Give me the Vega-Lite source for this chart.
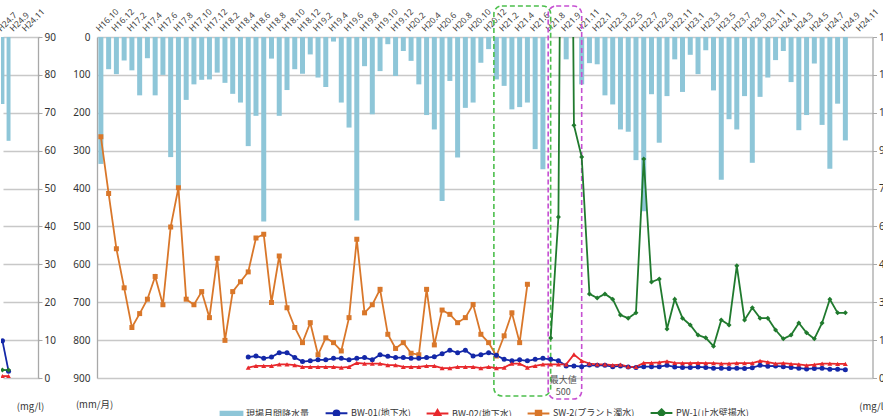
{
  "$schema": "https://vega.github.io/schema/vega-lite/v6.json",
  "padding": {"left": -5, "top": 5, "right": 0, "bottom": 0},
  "background": "white",
  "config": {
    "view": {"stroke": null},
    "font": "Noto Sans",
    "axis": {"labelFont": "Noto Sans", "titleFont": "Noto Sans CJK JP", "titleFontWeight": "normal", "labelColor": "#333", "titleColor": "#333"}
  },
  "bounds": "flush",
  "spacing": 59,
  "datasets": {
    "main": [
      {"m": "H16.10", "rain": 335, "sw2": 95.5},
      {"m": "H16.11", "rain": 85, "sw2": 73.0},
      {"m": "H16.12", "rain": 98, "sw2": 51.2},
      {"m": "H17.1", "rain": 62, "sw2": 35.7},
      {"m": "H17.2", "rain": 88, "sw2": 20.0},
      {"m": "H17.3", "rain": 154, "sw2": 25.5},
      {"m": "H17.4", "rain": 56, "sw2": 31.2},
      {"m": "H17.5", "rain": 154, "sw2": 40.2},
      {"m": "H17.6", "rain": 100, "sw2": 29.0},
      {"m": "H17.7", "rain": 317, "sw2": 59.8},
      {"m": "H17.8", "rain": 398, "sw2": 75.3},
      {"m": "H17.9", "rain": 166, "sw2": 31.2},
      {"m": "H17.10", "rain": 125, "sw2": 29.0},
      {"m": "H17.11", "rain": 113, "sw2": 34.2},
      {"m": "H17.12", "rain": 112, "sw2": 23.9},
      {"m": "H18.1", "rain": 94, "sw2": 47.4},
      {"m": "H18.2", "rain": 121, "sw2": 14.9},
      {"m": "H18.3", "rain": 150, "sw2": 34.2},
      {"m": "H18.4", "rain": 173, "sw2": 38.1},
      {"m": "H18.5", "rain": 288, "sw2": 42.0, "bw1": 8.3, "bw2": 4.1},
      {"m": "H18.6", "rain": 208, "sw2": 55.4, "bw1": 8.7, "bw2": 4.8},
      {"m": "H18.7", "rain": 487, "sw2": 56.9, "bw1": 7.8, "bw2": 4.8},
      {"m": "H18.8", "rain": 57, "sw2": 29.9, "bw1": 8.3, "bw2": 4.8},
      {"m": "H18.9", "rain": 208, "sw2": 48.3, "bw1": 10.0, "bw2": 5.4},
      {"m": "H18.10", "rain": 140, "sw2": 27.8, "bw1": 10.0, "bw2": 5.4},
      {"m": "H18.11", "rain": 85, "sw2": 20.0, "bw1": 8.1, "bw2": 5.1},
      {"m": "H18.12", "rain": 97, "sw2": 14.0, "bw1": 6.5, "bw2": 4.4},
      {"m": "H19.1", "rain": 46, "sw2": 21.9, "bw1": 6.8, "bw2": 4.4},
      {"m": "H19.2", "rain": 107, "sw2": 9.2, "bw1": 7.2, "bw2": 4.4},
      {"m": "H19.3", "rain": 132, "sw2": 15.9, "bw1": 7.2, "bw2": 4.4},
      {"m": "H19.4", "rain": 12, "sw2": 14.0, "bw1": 7.8, "bw2": 4.4},
      {"m": "H19.5", "rain": 173, "sw2": 10.7, "bw1": 7.8, "bw2": 4.1},
      {"m": "H19.6", "rain": 239, "sw2": 23.9, "bw1": 7.2, "bw2": 4.4},
      {"m": "H19.7", "rain": 484, "sw2": 54.9, "bw1": 7.8, "bw2": 6.0},
      {"m": "H19.8", "rain": 77, "sw2": 25.8, "bw1": 8.1, "bw2": 5.7},
      {"m": "H19.9", "rain": 204, "sw2": 29.0, "bw1": 7.2, "bw2": 5.7},
      {"m": "H19.10", "rain": 90, "sw2": 35.1, "bw1": 9.2, "bw2": 5.7},
      {"m": "H19.11", "rain": 19, "sw2": 17.3, "bw1": 8.6, "bw2": 5.1},
      {"m": "H19.12", "rain": 103, "sw2": 11.7, "bw1": 8.1, "bw2": 5.1},
      {"m": "H20.1", "rain": 37, "sw2": 14.0, "bw1": 8.1, "bw2": 4.4},
      {"m": "H20.2", "rain": 63, "sw2": 9.8, "bw1": 7.8, "bw2": 4.4},
      {"m": "H20.3", "rain": 125, "sw2": 9.2, "bw1": 7.8, "bw2": 4.4},
      {"m": "H20.4", "rain": 206, "sw2": 35.1, "bw1": 8.1, "bw2": 4.8},
      {"m": "H20.5", "rain": 244, "sw2": 13.1, "bw1": 8.4, "bw2": 4.8},
      {"m": "H20.6", "rain": 433, "sw2": 26.9, "bw1": 9.6, "bw2": 3.9},
      {"m": "H20.7", "rain": 116, "sw2": 25.2, "bw1": 11.0, "bw2": 3.9},
      {"m": "H20.8", "rain": 318, "sw2": 21.9, "bw1": 10.0, "bw2": 4.4},
      {"m": "H20.9", "rain": 187, "sw2": 23.9, "bw1": 11.0, "bw2": 4.4},
      {"m": "H20.10", "rain": 173, "sw2": 29.1, "bw1": 8.7, "bw2": 4.4},
      {"m": "H20.11", "rain": 68, "sw2": 17.3, "bw1": 9.2, "bw2": 3.9},
      {"m": "H20.12", "rain": 32, "sw2": 14.0, "bw1": 10.0, "bw2": 4.4},
      {"m": "H21.1", "rain": 112, "sw2": 8.7, "bw1": 9.0, "bw2": 3.9},
      {"m": "H21.2", "rain": 129, "sw2": 16.7, "bw1": 7.4, "bw2": 4.1},
      {"m": "H21.3", "rain": 191, "sw2": 25.8, "bw1": 6.8, "bw2": 5.7},
      {"m": "H21.4", "rain": 185, "sw2": 14.0, "bw1": 7.2, "bw2": 5.7},
      {"m": "H21.5", "rain": 173, "sw2": 37.1, "bw1": 6.8, "bw2": 4.1},
      {"m": "H21.6", "rain": 296, "bw1": 7.4, "bw2": 4.8},
      {"m": "H21.7", "rain": 349, "bw1": 7.8, "bw2": 5.4},
      {"m": "H21.8", "pw1": 15.8, "bw1": 7.4, "bw2": 5.4},
      {"m": "H21.8-2", "pw1": 63.7, "bw1": 6.8, "bw2": 5.4},
      {"m": "H21.9", "rain": 59, "pw1": 500, "bw1": 4.8, "bw2": 5.4},
      {"m": "H21.10", "pw1": 100.1, "bw1": 4.8, "bw2": 9.3},
      {"m": "H21.11", "rain": 125, "pw1": 87.5, "bw1": 4.5, "bw2": 6.8},
      {"m": "H21.12", "rain": 69, "pw1": 33.3, "bw1": 5.1, "bw2": 5.7},
      {"m": "H22.1", "rain": 72, "pw1": 31.7, "bw1": 5.0, "bw2": 5.4},
      {"m": "H22.2", "rain": 154, "pw1": 33.3, "bw1": 5.0, "bw2": 5.4},
      {"m": "H22.3", "rain": 178, "pw1": 31.2, "bw1": 4.5, "bw2": 5.1},
      {"m": "H22.4", "rain": 244, "pw1": 24.9, "bw1": 4.8, "bw2": 5.3},
      {"m": "H22.5", "rain": 250, "pw1": 23.7, "bw1": 4.4, "bw2": 4.5},
      {"m": "H22.6", "rain": 325, "pw1": 25.8, "bw1": 4.2, "bw2": 4.4},
      {"m": "H22.7", "rain": 460, "pw1": 86.7, "bw1": 4.5, "bw2": 6.0},
      {"m": "H22.8", "rain": 151, "pw1": 38.0, "bw1": 4.5, "bw2": 6.0},
      {"m": "H22.9", "rain": 279, "pw1": 39.2, "bw1": 4.5, "bw2": 6.2},
      {"m": "H22.10", "rain": 156, "pw1": 19.4, "bw1": 5.0, "bw2": 6.6},
      {"m": "H22.11", "rain": 59, "pw1": 31.2, "bw1": 4.4, "bw2": 6.0},
      {"m": "H22.12", "rain": 145, "pw1": 23.7, "bw1": 4.2, "bw2": 5.9},
      {"m": "H23.1", "rain": 47, "pw1": 21.0, "bw1": 4.2, "bw2": 5.9},
      {"m": "H23.2", "rain": 98, "pw1": 17.0, "bw1": 4.4, "bw2": 6.0},
      {"m": "H23.3", "rain": 35, "pw1": 15.9, "bw1": 4.2, "bw2": 5.9},
      {"m": "H23.4", "rain": 141, "pw1": 12.6, "bw1": 3.9, "bw2": 5.9},
      {"m": "H23.5", "rain": 377, "pw1": 23.0, "bw1": 3.9, "bw2": 5.7},
      {"m": "H23.6", "rain": 217, "pw1": 21.0, "bw1": 3.8, "bw2": 5.7},
      {"m": "H23.7", "rain": 244, "pw1": 44.4, "bw1": 3.9, "bw2": 5.9},
      {"m": "H23.8", "rain": 156, "pw1": 23.0, "bw1": 3.8, "bw2": 5.9},
      {"m": "H23.9", "rain": 332, "pw1": 27.8, "bw1": 4.1, "bw2": 5.9},
      {"m": "H23.10", "rain": 158, "pw1": 23.7, "bw1": 5.0, "bw2": 6.8},
      {"m": "H23.11", "rain": 107, "pw1": 23.7, "bw1": 4.7, "bw2": 6.3},
      {"m": "H23.12", "rain": 61, "pw1": 19.0, "bw1": 4.8, "bw2": 5.7},
      {"m": "H24.1", "rain": 37, "pw1": 15.5, "bw1": 4.5, "bw2": 5.9},
      {"m": "H24.2", "rain": 119, "pw1": 17.0, "bw1": 4.2, "bw2": 5.6},
      {"m": "H24.3", "rain": 246, "pw1": 21.8, "bw1": 3.9, "bw2": 5.4},
      {"m": "H24.4", "rain": 206, "pw1": 17.9, "bw1": 3.6, "bw2": 5.0},
      {"m": "H24.5", "rain": 70, "pw1": 15.5, "bw1": 3.8, "bw2": 5.3},
      {"m": "H24.6", "rain": 232, "pw1": 21.8, "bw1": 3.9, "bw2": 5.7},
      {"m": "H24.7", "rain": 348, "pw1": 31.2, "bw1": 3.5, "bw2": 5.7},
      {"m": "H24.8", "rain": 176, "pw1": 25.8, "bw1": 3.5, "bw2": 5.6},
      {"m": "H24.9", "rain": 273, "pw1": 25.8, "bw1": 3.3, "bw2": 5.6}
    ],
    "boxes": [
      {"m": "H21.1", "m2": "H21.8", "v": 147.3, "v2": -7.1, "box": "a"},
      {"m": "H21.8", "m2": "H21.11", "v": 147.3, "v2": -8.3, "box": "b"}
    ],
    "note": [
      {"m": "H21.9", "note": "最大値\n500", "v": 0.8}
    ],
    "left": [
      {"m": "H24.7", "rain": 177, "bw1": 9.8, "bw2": 0.5, "pw1": 2.1},
      {"m": "H24.8", "rain": 274, "bw1": 1.8, "bw2": 0.5, "pw1": 2.1}
    ]
  },
  "hconcat": [
    {
      "width": 37,
      "height": 341,
      "data": {"name": "left"},
      "encoding": {
        "x": {
          "field": "m", "type": "nominal",
          "scale": {"domain": ["H24.7", "H24.8", "H24.9", "H24.10", "H24.11", "H24.12"], "range": [-1.6, 35], "paddingInner": 0.355, "paddingOuter": 0.1775},
          "axis": {"orient": "top", "values": ["H24.7", "H24.9", "H24.11"], "labelAngle": -45, "labelFontSize": 8.5, "labelColor": "#444", "labelPadding": 4, "ticks": false, "domain": false, "grid": false, "title": null, "labelOverlap": false}
        }
      },
      "layer": [
        {
          "mark": {"type": "bar", "color": "#8ec6d8", "clip": true},
          "encoding": {"y": {"field": "rain", "type": "quantitative", "scale": {"domain": [0, 900], "reverse": true, "nice": false}, "axis": null}}
        },
        {
          "transform": [{"fold": ["bw1", "bw2", "pw1"], "as": ["s", "v"]}],
          "encoding": {
            "y": {"field": "v", "type": "quantitative", "scale": {"domain": [0, 90], "nice": false},
              "axis": {"orient": "right", "values": [0, 10, 20, 30, 40, 50, 60, 70, 80, 90], "labelOverlap": false, "grid": true, "gridColor": "#c8c8c8", "gridWidth": 1.3, "domainColor": "#a8a8a8", "domainWidth": 1.3, "tickColor": "#a8a8a8", "tickSize": 4, "labelPadding": 2, "labelFontSize": 10, "title": "(mg/l)", "titleAngle": 0, "titleX": -8, "titleY": 369, "titleAlign": "center", "titleBaseline": "middle", "titleFontSize": 9.5}},
            "color": {"field": "s", "type": "nominal"}
          },
          "layer": [
            {"mark": {"type": "line", "strokeWidth": 1.8, "clip": true}},
            {"mark": {"type": "point", "filled": true, "size": 25, "opacity": 1, "clip": true}, "encoding": {"shape": {"field": "s", "type": "nominal", "legend": null}}}
          ]
        }
      ],
      "resolve": {"scale": {"y": "independent"}}
    },
    {
      "width": 775.5,
      "height": 341,
      "data": {"name": "main"},
      "encoding": {
        "x": {
          "field": "m", "type": "nominal",
          "scale": {
            "domain": ["H16.10","H16.11","H16.12","H17.1","H17.2","H17.3","H17.4","H17.5","H17.6","H17.7","H17.8","H17.9","H17.10","H17.11","H17.12","H18.1","H18.2","H18.3","H18.4","H18.5","H18.6","H18.7","H18.8","H18.9","H18.10","H18.11","H18.12","H19.1","H19.2","H19.3","H19.4","H19.5","H19.6","H19.7","H19.8","H19.9","H19.10","H19.11","H19.12","H20.1","H20.2","H20.3","H20.4","H20.5","H20.6","H20.7","H20.8","H20.9","H20.10","H20.11","H20.12","H21.1","H21.2","H21.3","H21.4","H21.5","H21.6","H21.7","H21.8","H21.8-2","H21.9","H21.10","H21.11","H21.12","H22.1","H22.2","H22.3","H22.4","H22.5","H22.6","H22.7","H22.8","H22.9","H22.10","H22.11","H22.12","H23.1","H23.2","H23.3","H23.4","H23.5","H23.6","H23.7","H23.8","H23.9","H23.10","H23.11","H23.12","H24.1","H24.2","H24.3","H24.4","H24.5","H24.6","H24.7","H24.8","H24.9","H24.10","H24.11","H24.12"],
            "paddingInner": 0.355, "paddingOuter": 0.1775
          },
          "axis": {
            "orient": "top",
            "values": ["H16.10","H16.12","H17.2","H17.4","H17.6","H17.8","H17.10","H17.12","H18.2","H18.4","H18.6","H18.8","H18.10","H18.12","H19.2","H19.4","H19.6","H19.8","H19.10","H19.12","H20.2","H20.4","H20.6","H20.8","H20.10","H20.12","H21.2","H21.4","H21.6","H21.8","H21.9","H21.11","H22.1","H22.3","H22.5","H22.7","H22.9","H22.11","H23.1","H23.3","H23.5","H23.7","H23.9","H23.11","H24.1","H24.3","H24.5","H24.7","H24.9","H24.11"],
            "labelAngle": -45, "labelFontSize": 8.5, "labelColor": "#444", "labelPadding": 4, "ticks": false, "domain": false, "grid": false, "title": null, "labelOverlap": false
          }
        }
      },
      "layer": [
        {
          "mark": {"type": "bar"},
          "encoding": {
            "y": {"field": "rain", "type": "quantitative", "scale": {"domain": [0, 900], "reverse": true, "nice": false},
              "axis": {"orient": "left", "values": [0, 100, 200, 300, 400, 500, 600, 700, 800, 900], "labelOverlap": false, "grid": true, "gridColor": "#c8c8c8", "gridWidth": 1.3, "domainColor": "#a8a8a8", "domainWidth": 1.3, "ticks": false, "labelPadding": 7, "labelFontSize": 10, "title": "(mm/月)", "titleAngle": 0, "titleX": -3, "titleY": 367, "titleAlign": "center", "titleBaseline": "middle", "titleFontSize": 9.5}},
            "color": {"datum": "rain", "type": "nominal"}
          }
        },
        {
          "encoding": {
            "y": {"field": "v", "type": "quantitative", "scale": {"domain": [0, 135], "nice": false},
              "axis": {"orient": "right", "values": [0, 15, 30, 45, 60, 75, 90, 105, 120, 135], "labelOverlap": false, "grid": false, "domainColor": "#a8a8a8", "domainWidth": 1.3, "tickColor": "#a8a8a8", "tickSize": 4, "labelPadding": 2, "labelFontSize": 10, "title": "(mg/l)", "titleAngle": 0, "titleX": 0, "titleY": 369, "titleAlign": "center", "titleBaseline": "middle", "titleFontSize": 9.5}}
          },
          "layer": [
            {
              "data": {"name": "boxes"},
              "mark": {"type": "rect", "filled": false, "strokeDash": [5, 3], "strokeWidth": 1.6, "cornerRadius": 8, "clip": false},
              "encoding": {
                "x": {"field": "m", "type": "nominal", "bandPosition": 0},
                "x2": {"field": "m2"},
                "y2": {"field": "v2"},
                "stroke": {"field": "box", "type": "nominal", "scale": {"domain": ["a", "b"], "range": ["#4cbf4c", "#c64fd2"]}, "legend": null}
              }
            },
            {
              "data": {"name": "note"},
              "mark": {"type": "text", "lineBreak": "\n", "font": "Noto Sans CJK JP", "fontSize": 9, "lineHeight": 12.5, "color": "#555", "baseline": "top", "align": "center", "dx": -3},
              "encoding": {"text": {"field": "note"}}
            },
            {
              "transform": [{"fold": ["sw2", "bw1", "bw2", "pw1"], "as": ["s", "v"]}, {"filter": {"field": "v", "valid": true}}],
              "encoding": {
                "color": {
                  "field": "s", "type": "nominal",
                  "scale": {"domain": ["rain", "bw1", "bw2", "sw2", "pw1"], "range": ["#8ec6d8", "#1428a8", "#e8282c", "#d9772a", "#207a2e"]},
                  "legend": {
                    "orient": "none", "legendX": 220, "legendY": 365, "direction": "horizontal", "columns": 5, "title": null,
                    "labelExpr": "datum.value === 'rain' ? '現場月間降水量' : datum.value === 'bw1' ? 'BW-01(地下水)' : datum.value === 'bw2' ? 'BW-02(地下水)' : datum.value === 'sw2' ? 'SW-2(プラント濁水)' : 'PW-1(止水壁揚水)'",
                    "symbolSize": 330, "symbolStrokeWidth": 2, "labelFont": "Noto Sans CJK JP", "labelFontSize": 9, "labelColor": "#333", "columnPadding": 11, "labelOffset": 4,
                    "encode": {"symbols": {"update": {
                      "shape": {"signal": "datum.value === 'rain' ? 'M-1.2,-0.22H1.2V0.22H-1.2Z' : datum.value === 'bw1' ? 'M-1.2,0H1.2M0.32,0A0.32,0.32,0,1,1,-0.32,0A0.32,0.32,0,1,1,0.32,0Z' : datum.value === 'bw2' ? 'M-1.2,0H1.2M0,-0.4L0.38,0.26L-0.38,0.26Z' : datum.value === 'sw2' ? 'M-1.2,0H1.2M-0.3,-0.3H0.3V0.3H-0.3Z' : 'M-1.2,0H1.2M0,-0.4L0.4,0L0,0.4L-0.4,0Z'"},
                      "fill": {"scale": "color", "field": "value"},
                      "stroke": {"scale": "color", "field": "value"},
                      "opacity": {"value": 1},
                      "fillOpacity": {"value": 1},
                      "strokeWidth": {"value": 2}
                    }}}
                  }
                }
              },
              "layer": [
                {"mark": {"type": "line", "strokeWidth": 1.8, "clip": true}},
                {"mark": {"type": "point", "filled": true, "size": 25, "opacity": 1, "clip": true},
                  "encoding": {"shape": {"field": "s", "type": "nominal", "scale": {"domain": ["bw1", "bw2", "sw2", "pw1"], "range": ["circle", "triangle-up", "square", "diamond"]}, "legend": null}}}
              ]
            }
          ]
        }
      ],
      "resolve": {"scale": {"y": "independent"}}
    }
  ]
}
